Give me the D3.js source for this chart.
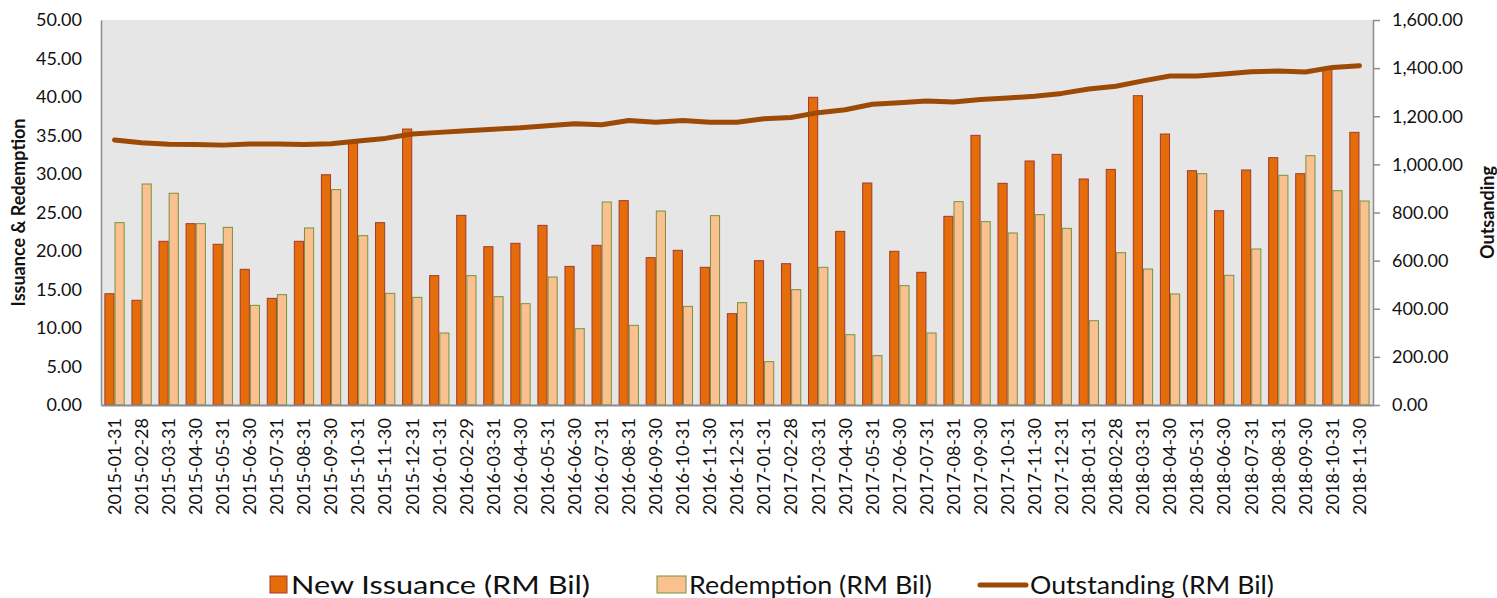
<!DOCTYPE html>
<html>
<head>
<meta charset="utf-8">
<script src="https://cdn.jsdelivr.net/npm/d3@7"></script>
<style>
  html, body { margin: 0; padding: 0; background: #fff; }
  svg { display: block; }
  text { font-family: Lato, "Open Sans", sans-serif; fill: #111; }
</style>
</head>
<body>
<svg id="chart" width="1497" height="598"></svg>
<script>
const categories = [
  "2015-01-31","2015-02-28","2015-03-31","2015-04-30","2015-05-31","2015-06-30","2015-07-31","2015-08-31","2015-09-30","2015-10-31","2015-11-30","2015-12-31",
  "2016-01-31","2016-02-29","2016-03-31","2016-04-30","2016-05-31","2016-06-30","2016-07-31","2016-08-31","2016-09-30","2016-10-31","2016-11-30","2016-12-31",
  "2017-01-31","2017-02-28","2017-03-31","2017-04-30","2017-05-31","2017-06-30","2017-07-31","2017-08-31","2017-09-30","2017-10-31","2017-11-30","2017-12-31",
  "2018-01-31","2018-02-28","2018-03-31","2018-04-30","2018-05-31","2018-06-30","2018-07-31","2018-08-31","2018-09-30","2018-10-31","2018-11-30"
];
const newIssuance = [
  14.45, 13.6, 21.26, 23.55, 20.87, 17.62, 13.85, 21.26, 29.9, 34.2, 23.68, 35.84,
  16.8, 24.63, 20.56, 21.0, 23.33, 18.0, 20.74, 26.54, 19.13, 20.09, 17.88, 11.86,
  18.74, 18.35, 39.96, 22.55, 28.83, 19.96, 17.23, 24.5, 35.02, 28.79, 31.69, 32.55,
  29.35, 30.6, 40.17, 35.19, 30.43, 25.23, 30.52, 32.12, 30.04, 43.7, 35.41
];
const redemption = [
  23.68, 28.7, 27.5, 23.55, 23.07, 12.94, 14.33, 22.99, 27.97, 21.99, 14.5, 13.98,
  9.35, 16.8, 14.07, 13.16, 16.62, 9.91, 26.36, 10.35, 25.19, 12.81, 24.59, 13.29,
  5.63, 14.98, 17.88, 9.13, 6.41, 15.5, 9.35, 26.41, 23.81, 22.34, 24.72, 22.94,
  10.95, 19.78, 17.66, 14.42, 30.04, 16.84, 20.26, 29.83, 32.38, 27.83, 26.49
];
const outstanding = [
  1101, 1090, 1084, 1083, 1080, 1085, 1085, 1083, 1086, 1097, 1108, 1126,
  1133, 1140, 1146, 1152, 1161, 1169, 1165, 1182, 1175, 1182, 1175, 1175,
  1190, 1195, 1215, 1227, 1250, 1256, 1263, 1259, 1270, 1276, 1283, 1295,
  1313, 1325, 1347, 1367, 1367, 1376, 1385, 1388, 1384, 1403, 1410
];
const leftTicks = [0,5,10,15,20,25,30,35,40,45,50];
const rightTicks = [0,200,400,600,800,1000,1200,1400,1600];
const seriesNames = ["New Issuance (RM Bil)", "Redemption (RM Bil)", "Outstanding (RM Bil)"];

const svg = d3.select("#chart");
const L = 101, R = 1373, T = 20, B = 405;

const x0 = d3.scaleBand().domain(categories).range([L, R]).paddingInner(0.25).paddingOuter(0.125);
const x1 = d3.scaleBand().domain(["iss","red"]).range([0, x0.bandwidth()]);
const yL = d3.scaleLinear().domain([0, 50]).range([B, T]);
const yR = d3.scaleLinear().domain([0, 1600]).range([B, T]);

// plot background
svg.append("rect").attr("x", L).attr("y", T).attr("width", R - L).attr("height", B - T).attr("fill", "#E6E6E6");

// bars
const g = svg.append("g");
categories.forEach((c, i) => {
  g.append("rect")
    .attr("x", x0(c) + x1("iss") + 0.5)
    .attr("y", yL(newIssuance[i]))
    .attr("width", x1.bandwidth() - 1)
    .attr("height", B - yL(newIssuance[i]))
    .attr("fill", "#E46C0A").attr("stroke", "#A23A2C").attr("stroke-width", 1);
  g.append("rect")
    .attr("x", x0(c) + x1("red") + 0.5)
    .attr("y", yL(redemption[i]))
    .attr("width", x1.bandwidth() - 1)
    .attr("height", B - yL(redemption[i]))
    .attr("fill", "#FAC090").attr("stroke", "#77933C").attr("stroke-width", 1);
});

// line
const line = d3.line()
  .x((d, i) => x0(categories[i]) + x0.bandwidth() / 2)
  .y(d => yR(d));
svg.append("path").datum(outstanding).attr("d", line)
  .attr("fill", "none").attr("stroke", "#9C4A06").attr("stroke-width", 5)
  .attr("stroke-linecap", "round").attr("stroke-linejoin", "round");

// axes
const axisColor = "#8C8C8C";
const fmt2 = d3.format(",.2f");

const leftAxis = svg.append("g").attr("transform", `translate(${L},0)`)
  .call(d3.axisLeft(yL).tickValues(leftTicks).tickFormat(fmt2).tickSize(0).tickPadding(19));
leftAxis.select(".domain").attr("stroke", axisColor).attr("stroke-width", 1.5);
leftAxis.selectAll("text").style("font-size", "18px").style("font-family", "Lato").attr("fill", "#111");

const rightAxis = svg.append("g").attr("transform", `translate(${R},0)`)
  .call(d3.axisRight(yR).tickValues(rightTicks).tickFormat(fmt2).tickSize(7).tickSizeOuter(0).tickPadding(12));
rightAxis.select(".domain").attr("stroke", axisColor).attr("stroke-width", 1.5);
rightAxis.selectAll("line").attr("stroke", axisColor).attr("stroke-width", 1.5);
rightAxis.selectAll("text").style("font-size", "18px").style("font-family", "Lato").attr("fill", "#111");

const bottomAxis = svg.append("g").attr("transform", `translate(0,${B})`)
  .call(d3.axisBottom(x0).tickSize(0).tickSizeOuter(0));
bottomAxis.select(".domain").attr("stroke", axisColor).attr("stroke-width", 2);
bottomAxis.selectAll("text")
  .style("font-size", "18px").style("font-family", "Lato").attr("fill", "#111")
  .attr("text-anchor", "end")
  .attr("transform", "rotate(-90)")
  .attr("x", -13).attr("y", 0).attr("dy", "0.35em");

// axis titles
svg.append("text").attr("transform", `translate(25,${(T + B) / 2}) rotate(-90)`)
  .attr("text-anchor", "middle").style("font-size", "18px").style("font-weight", "bold")
  .text("Issuance & Redemption");
svg.append("text").attr("transform", `translate(1494,${(T + B) / 2}) rotate(-90)`)
  .attr("text-anchor", "middle").style("font-size", "18px").style("font-weight", "bold")
  .text("Outsanding");

// legend
const ly = 585;
const lg = svg.append("g");
lg.append("rect").attr("x", 270).attr("y", ly - 9).attr("width", 17).attr("height", 17)
  .attr("fill", "#E46C0A").attr("stroke", "#A23A2C");
lg.append("text").attr("x", 291).attr("y", ly).attr("dy", "0.36em").style("font-size", "25px")
  .attr("textLength", 299).attr("lengthAdjust", "spacingAndGlyphs").text(seriesNames[0]);
lg.append("rect").attr("x", 657).attr("y", ly - 9).attr("width", 29).attr("height", 17)
  .attr("fill", "#FAC090").attr("stroke", "#77933C");
lg.append("text").attr("x", 689).attr("y", ly).attr("dy", "0.36em").style("font-size", "25px")
  .attr("textLength", 243).attr("lengthAdjust", "spacingAndGlyphs").text(seriesNames[1]);
lg.append("line").attr("x1", 980).attr("x2", 1026).attr("y1", ly).attr("y2", ly)
  .attr("stroke", "#9C4A06").attr("stroke-width", 5).attr("stroke-linecap", "round");
lg.append("text").attr("x", 1030).attr("y", ly).attr("dy", "0.36em").style("font-size", "25px")
  .attr("textLength", 244).attr("lengthAdjust", "spacingAndGlyphs").text(seriesNames[2]);
</script>
</body>
</html>
